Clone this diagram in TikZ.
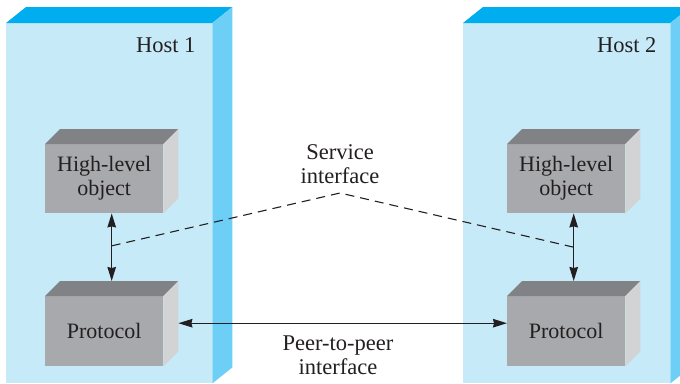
\documentclass[tikz,border=0pt]{standalone}
\usepackage{fontspec}
\setmainfont{Liberation Serif}
\usetikzlibrary{arrows.meta,calc,positioning}

\definecolor{hostfront}{RGB}{199,234,249}
\definecolor{hosttop}{RGB}{0,174,239}
\definecolor{hostside}{RGB}{109,207,246}
\definecolor{boxfront}{RGB}{167,169,172}
\definecolor{boxtop}{RGB}{128,130,133}
\definecolor{boxside}{RGB}{209,211,212}
\definecolor{ink}{RGB}{35,31,32}

% top and side faces of a block drawn behind a front node
\newcommand{\blockfaces}[4]{%
	\fill[#3] (#1.north west) -- ([shift={#2}]#1.north west) -- ([shift={#2}]#1.north east) -- (#1.north east) -- cycle;
	\fill[#4] (#1.north east) -- ([shift={#2}]#1.north east) -- ([shift={#2}]#1.south east) -- (#1.south east) -- cycle;}

\begin{document}
\begin{tikzpicture}[x=1pt, y=-1pt,
	host/.style={fill=hostfront, inner sep=0pt, minimum width=206pt, minimum height=360pt, anchor=north west},
	block/.style={fill=boxfront, inner sep=0pt, minimum width=118pt, minimum height=69pt, anchor=north west, align=center, text=ink, font=\fontsize{22}{24}\selectfont},
	txt/.style={text=ink, align=center, font=\fontsize{22.5}{24.5}\selectfont},
	conn/.style={draw=ink, line width=1.3pt, {Stealth[length=14pt,width=8.5pt,inset=1pt]}-{Stealth[length=14pt,width=8.5pt,inset=1pt]}},
	iface/.style={draw=ink, line width=1.1pt, dash pattern=on 9pt off 6pt}]
	\useasboundingbox (0,0) rectangle (680,383);

	% Hosts
	\node[host] (host1) at (6,23) {};
	\blockfaces{host1}{(20,-16)}{hosttop}{hostside}
	\node[host, minimum width=207pt] (host2) at (463,23) {};
	\blockfaces{host2}{(20,-16)}{hosttop}{hostside}
	\node[txt, anchor=base east] (h1name) at (199,52) {Host 1};
	\node[txt, anchor=base east] (h2name) at (660,52) {Host 2};

	% Objects inside each host
	\node[block] (hlo1) at (45,144) {High-level\\object};
	\blockfaces{hlo1}{(15,-15)}{boxtop}{boxside}
	\node[block, minimum height=70pt] (prot1) at (45,296) {Protocol};
	\blockfaces{prot1}{(15,-15)}{boxtop}{boxside}
	\node[block] (hlo2) at (507,144) {High-level\\object};
	\blockfaces{hlo2}{(15,-15)}{boxtop}{boxside}
	\node[block, minimum height=70pt] (prot2) at (507,296) {Protocol};
	\blockfaces{prot2}{(15,-15)}{boxtop}{boxside}

	% Service interface
	\coordinate (hi1) at ([xshift=7.5pt]hlo1.south);
	\coordinate (lo1) at ([shift={(7.5,-15)}]prot1.north);
	\coordinate (hi2) at ([xshift=7.5pt]hlo2.south);
	\coordinate (lo2) at ([shift={(7.5,-15)}]prot2.north);
	\draw[conn] (hi1) -- (lo1);
	\draw[conn] (hi2) -- (lo2);
	\node[txt] (svc) at (340,164) {Service\\interface};
	\coordinate (apex) at (340,193);
	\draw[iface] ($(hi1)!0.48!(lo1)$) -- (apex) -- ($(hi2)!0.5!(lo2)$);

	% Peer-to-peer interface
	\draw[conn] ([shift={(15,-8)}]prot1.east) -- ([yshift=8pt]prot2.west);
	\node[txt] (p2p) at (338,355) {Peer-to-peer\\interface};
\end{tikzpicture}
\end{document}
